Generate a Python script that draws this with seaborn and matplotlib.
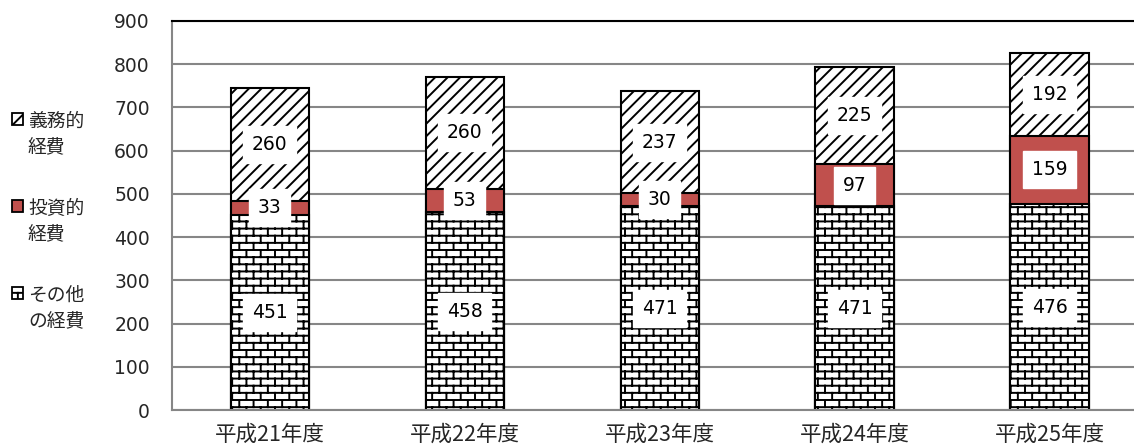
import warnings
warnings.filterwarnings('ignore')
import numpy as np
import pandas as pd
import matplotlib
matplotlib.use('Agg')
import matplotlib.pyplot as plt
import seaborn as sns
from matplotlib import hatch as mhatch
from matplotlib.path import Path
from matplotlib.patches import Patch, Rectangle
from matplotlib.legend_handler import HandlerPatch

# ---------------- data ----------------
years = ['平成21年度', '平成22年度', '平成23年度', '平成24年度', '平成25年度']
other_costs = [451, 458, 471, 471, 476]        # その他の経費
invest_costs = [33, 53, 30, 97, 159]           # 投資的経費
mandatory_costs = [260, 260, 237, 225, 192]    # 義務的経費
legend_labels = ['義務的\n経費', '投資的\n経費', 'その他\nの経費']
y_ticks = [0, 100, 200, 300, 400, 500, 600, 700, 800, 900]

RED = '#C0504D'
GRID = '#868686'


# ---------------- custom hatches ----------------
class BrickHatch(mhatch.HatchPatternBase):
    """'b' : brick wall pattern"""
    def __init__(self, hatch, density):
        n = hatch.count('b')
        self.rows = 14 * n
        self.cols = 7
        if self.rows:
            self.num_vertices = (self.rows + 1) * 2 + self.rows * self.cols * 2
        else:
            self.num_vertices = 0

    def set_vertices_and_codes(self, vertices, codes):
        i = 0
        for r in range(self.rows + 1):
            y = r / self.rows
            vertices[i] = (0.0, y)
            vertices[i + 1] = (1.0, y)
            codes[i] = Path.MOVETO
            codes[i + 1] = Path.LINETO
            i += 2
        for r in range(self.rows):
            off = 0.5 if r % 2 else 0.0
            for c in range(self.cols):
                x = (c + off + 0.25) / self.cols
                vertices[i] = (x, r / self.rows)
                vertices[i + 1] = (x, (r + 1) / self.rows)
                codes[i] = Path.MOVETO
                codes[i + 1] = Path.LINETO
                i += 2


class DiagHatch(mhatch.HatchPatternBase):
    """'d' : dense north-east diagonals"""
    def __init__(self, hatch, density):
        n = hatch.count('d')
        self.m = 8 * n
        if self.m:
            self.num_vertices = (2 * self.m + 1) * 2
        else:
            self.num_vertices = 0

    def set_vertices_and_codes(self, vertices, codes):
        i = 0
        for k in range(-self.m, self.m + 1):
            c = k / self.m
            vertices[i] = (0.0, c)
            vertices[i + 1] = (1.0, 1.0 + c)
            codes[i] = Path.MOVETO
            codes[i + 1] = Path.LINETO
            i += 2


mhatch._hatch_types.append(BrickHatch)
mhatch._hatch_types.append(DiagHatch)

# ---------------- figure ----------------
sns.set_theme(style='white')
plt.rcParams['font.family'] = ['DejaVu Sans', 'Noto Sans CJK JP']
plt.rcParams['hatch.linewidth'] = 1.4
plt.rcParams['hatch.color'] = 'black'

W, H = 1134, 448
fig = plt.figure(figsize=(W / 100, H / 100), dpi=100)
ax = fig.add_axes([172 / W, (H - 410) / H, 975 / W, 389 / H])

df = pd.DataFrame({'year': years, 'other': other_costs,
                   'invest': invest_costs, 'mand': mandatory_costs})
df['lvl2'] = df['other'] + df['invest']
df['total'] = df['lvl2'] + df['mand']

common = dict(data=df, x='year', width=0.4, saturation=1, edgecolor='black',
              linewidth=1.5, ax=ax, zorder=2)
sns.barplot(y='total', color='white', hatch='d', **common)
sns.barplot(y='lvl2', color=RED, **common)
sns.barplot(y='other', color='white', hatch='b', **common)

# value labels
box = dict(boxstyle='square,pad=0.48', fc='white', ec='white', lw=1.0)
for i in range(len(years)):
    o, v, m = other_costs[i], invest_costs[i], mandatory_costs[i]
    for val, yc in [(o, o / 2), (v, o + v / 2), (m, o + v + m / 2)]:
        ax.text(i, yc, str(val), ha='center', va='center', fontsize=13.5,
                family='DejaVu Sans', color='black', bbox=box, zorder=5)

# axes styling
ax.set_xlim(-0.5, len(years) - 0.5)
ax.set_ylim(0, 900)
ax.set_yticks(y_ticks)
ax.set_yticklabels([str(t) for t in y_ticks], fontsize=13.5, family='DejaVu Sans')
ax.yaxis.grid(True, color=GRID, linewidth=1.5)
ax.set_axisbelow(True)
ax.set_xlabel('')
ax.set_ylabel('')

ax.set_xticks(np.arange(len(years)))
ax.set_xticklabels(years, fontsize=15.5, family=['Noto Sans CJK JP'])
ax.set_xticks(np.arange(len(years) + 1) - 0.5, minor=True)
ax.tick_params(axis='x', which='major', length=0, pad=10)
ax.tick_params(axis='x', which='minor', length=7, width=1.5, color=GRID, direction='out')
ax.tick_params(axis='y', length=6, width=1.5, color=GRID, pad=10, direction='out')

for s in ['left', 'bottom']:
    ax.spines[s].set_visible(True)
    ax.spines[s].set_color(GRID)
    ax.spines[s].set_linewidth(1.5)
ax.spines['right'].set_visible(False)
ax.spines['top'].set_visible(True)
ax.spines['top'].set_color('black')
ax.spines['top'].set_linewidth(1.5)

# legend (handle placed beside the first line of each two-line label)
SHIFT = 12.0  # points


def first_line_patch(legend, orig_handle, xdescent, ydescent, width, height, fontsize):
    return Rectangle((-xdescent, -ydescent + SHIFT), width, height)


handles = [Patch(facecolor='white', edgecolor='black', hatch='d', linewidth=1.3),
           Patch(facecolor=RED, edgecolor='black', linewidth=1.3),
           Patch(facecolor='white', edgecolor='black', hatch='b', linewidth=1.3)]
leg = fig.legend(handles, legend_labels, loc='upper left', bbox_to_anchor=(0.004, 0.77),
                 frameon=False, prop={'family': ['Noto Sans CJK JP'], 'size': 13.5},
                 handlelength=0.6, handleheight=0.6, handletextpad=0.25,
                 labelspacing=2.1, borderaxespad=0,
                 handler_map={Patch: HandlerPatch(patch_func=first_line_patch)})
for t in leg.get_texts():
    t.set_linespacing(1.35)

fig.savefig('out.png', dpi=100)
